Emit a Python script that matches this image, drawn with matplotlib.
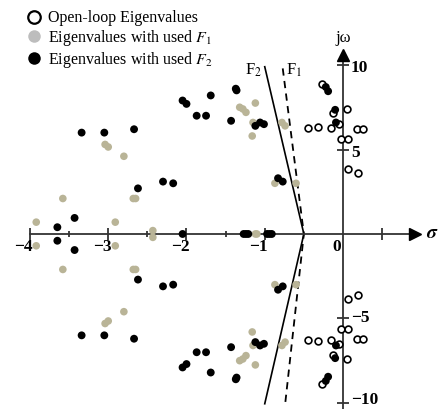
import matplotlib
matplotlib.use('Agg')
import matplotlib.pyplot as plt
from matplotlib.lines import Line2D
import numpy as np

plt.rcParams['font.family'] = 'Liberation Serif'
plt.rcParams['mathtext.fontset'] = 'stix'

# open-loop eigenvalues (upper half, conjugates mirrored below)
open_re = [-0.27, 0.05, -0.13, -0.05, -0.45, -0.32, -0.15, 0.18, 0.25, -0.03, 0.06, 0.06, 0.19]
open_im = [8.9, 7.4, 7.15, 6.5, 6.3, 6.35, 6.3, 6.2, 6.2, 5.6, 5.6, 3.85, 3.6]

# eigenvalues with F1 (upper half)
f1_re = [-1.32, -1.28, -1.24, -1.12, -1.16, -1.15, -0.78, -0.74, -0.87, -0.6,
         -3.92, -3.58, -2.91, -2.68, -2.65, -3.04, -3.0, -2.8, -2.43]
f1_im = [7.5, 7.4, 7.2, 7.75, 5.8, 6.6, 6.6, 6.4, 3.0, 3.0,
         0.7, 2.1, 0.7, 2.1, 2.1, 5.3, 5.15, 4.6, 0.2]
f1_real = [-1.12, -1.1]

# eigenvalues with F2 (upper half)
f2_re = [-0.22, -0.19, -0.1, -0.09, -2.05, -2.0, -1.69, -1.37, -1.36, -1.87, -1.75, -1.43,
         -1.12, -1.06, -1.01, -3.34, -3.05, -2.67, -2.62, -2.30, -2.17, -0.83, -0.77,
         -3.43, -3.65]
f2_im = [8.7, 8.45, 7.35, 6.6, 7.9, 7.7, 8.2, 8.6, 8.5, 7.0, 7.0, 6.7,
         6.4, 6.6, 6.5, 6.0, 6.0, 6.2, 2.7, 3.1, 3.0, 3.3, 3.1,
         0.95, 0.4]
f2_real = [-2.05, -1.27, -1.24, -1.21, -0.97, -0.94, -0.91]

# damping boundary lines
line_f2_x = [-1.0, -0.5, -1.0]
line_f2_y = [9.9, 0.0, -10.05]
line_f1_x = [-0.77, -0.5, -0.74]
line_f1_y = [9.8, 0.0, -10.1]

xticks_major = [-4, -3, -2, -1, 0.5]
xticks_minor = [-3.5, -2.5, -1.5]
xtick_labels = ['\u22124', '\u22123', '\u22122', '\u22121', '0']
xtick_label_pos = [-4, -3, -2, -1, 0]
yticks = [10, 5, -5, -10]
ytick_labels = ['10', '5', '\u22125', '\u221210']
ytick_label_pos = [9.85, 4.8, -5.0, -9.85]


def with_conj(re, im, real=()):
    re = np.asarray(re, float)
    im = np.asarray(im, float)
    real = np.asarray(real, float)
    x = np.concatenate([re, re, real])
    y = np.concatenate([im, -im, np.zeros_like(real)])
    return x, y


axis_col = '#333333'
tan = '#b9b497'

fig = plt.figure(figsize=(4.38, 4.09), dpi=100)
ax = fig.add_axes([0, 0, 1, 1])
ax.set_xlim(-4.383, 1.214)
ax.set_ylim(-10.36, 13.85)

# axes through the origin
for s in ['top', 'right']:
    ax.spines[s].set_visible(False)
ax.spines['bottom'].set_position(('data', 0))
ax.spines['left'].set_position(('data', 0))
ax.spines['bottom'].set_bounds(-4, 0.9)
ax.spines['left'].set_bounds(-10.4, 10.5)
for s in ['bottom', 'left']:
    ax.spines[s].set_color(axis_col)
    ax.spines[s].set_linewidth(1.3)
ax.plot(0.92, 0, '>', color='k', ms=8, clip_on=False, zorder=5)
ax.plot(0, 10.6, '^', color='k', ms=8, clip_on=False, zorder=5)

ax.set_xticks(xticks_major)
ax.set_xticks(xticks_minor, minor=True)
ax.set_yticks(yticks)
ax.tick_params(axis='both', which='both', direction='inout', color=axis_col, width=1.3,
               labelbottom=False, labelleft=False)
ax.tick_params(which='major', length=8)
ax.tick_params(which='minor', length=5)

for v, lab in zip(xtick_label_pos, xtick_labels):
    ax.text(v - 0.08, -0.75, lab, ha='center', va='center', fontsize=12.5, fontweight='bold')
for v, lab in zip(ytick_label_pos, ytick_labels):
    ax.text(0.1, v, lab, ha='left', va='center', fontsize=12.5, fontweight='bold')

ax.text(0, 11.6, 'j\u03c9', ha='center', va='center', fontsize=12)
ax.text(1.14, 0.05, r'$\boldsymbol{\sigma}$', ha='center', va='center', fontsize=14)

ax.plot(line_f2_x, line_f2_y, color='k', lw=1.2)
ax.plot(line_f1_x, line_f1_y, color='k', lw=1.3, dashes=(4, 3))
ax.text(-1.14, 9.7, r'F$_2$', ha='center', va='center', fontsize=12)
ax.text(-0.63, 9.7, r'F$_1$', ha='center', va='center', fontsize=12)

ox, oy = with_conj(open_re, open_im)
ax.scatter(ox, oy, s=24, facecolors='white', edgecolors='k', linewidths=1.2, zorder=3)
x1, y1 = with_conj(f1_re, f1_im, f1_real)
ax.scatter(x1, y1, s=30, color=tan, edgecolors='none', zorder=3)
x2, y2 = with_conj(f2_re, f2_im, f2_real)
ax.scatter(x2, y2, s=32, color='k', edgecolors='none', zorder=4)

handles = [
    Line2D([], [], ls='', marker='o', ms=9, mfc='white', mec='k', mew=1.6),
    Line2D([], [], ls='', marker='o', ms=9, mfc='#bdbdbd', mec='none'),
    Line2D([], [], ls='', marker='o', ms=9, mfc='k', mec='none'),
]
labels = ['Open-loop Eigenvalues', r'Eigenvalues with used $F_1$', r'Eigenvalues with used $F_2$']
ax.legend(handles, labels, loc='upper left', bbox_to_anchor=(0.035, 1.0), frameon=False,
          fontsize=11.5, handlelength=1.0, handletextpad=0.4, labelspacing=0.1,
          borderaxespad=0.25)

fig.savefig('out.png', dpi=100)
